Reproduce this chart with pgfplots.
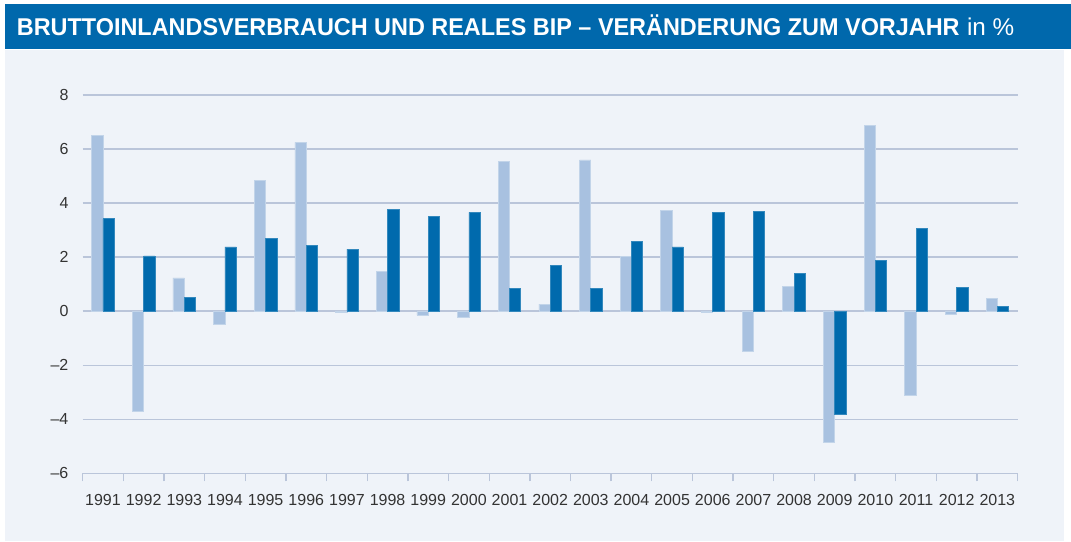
\documentclass[border=0pt]{standalone}
\usepackage{fontspec}
\setmainfont{Liberation Sans}
\usepackage{graphicx}
\usepackage{pgfplots}
\pgfplotsset{compat=1.18}

\definecolor{bandblue}{HTML}{0068AC}
\definecolor{panel}{HTML}{EFF3F9}
\definecolor{lightbar}{HTML}{A8C1E0}
\definecolor{darkbar}{HTML}{006AAD}
\definecolor{gridcol}{HTML}{BAC5DA}
\definecolor{labelcol}{HTML}{333333}

\begin{document}
\begin{tikzpicture}
% page, title band and panel (1px = 0.75pt)
\fill[white] (0,0) rectangle (803.25pt,-406.5pt);
\fill[bandblue] (3.75pt,-3pt) rectangle (803.25pt,-36.75pt);
\fill[panel] (3.75pt,-37.5pt) rectangle (798pt,-406.1pt);
\node[anchor=base west, inner sep=0pt, text=white,
      font=\fontsize{18.2pt}{20pt}\selectfont] at (12.5pt,-26.8pt)
  {\scalebox{0.965}[1]{\bfseries BRUTTOINLANDSVERBRAUCH UND REALES BIP – VERÄNDERUNG ZUM VORJAHR}\hspace{5.5pt}in \%};

\begin{axis}[
  at={(62pt,-355pt)}, anchor=south west,
  scale only axis, width=701.25pt, height=283.7pt,
  xmin=-0.5, xmax=22.5, ymin=-6, ymax=8,
  axis lines*=left,
  y axis line style={draw=none},
  x axis line style={draw=gridcol, line width=1pt},
  ymajorgrids, grid style={gridcol, line width=1.1pt},
  ytick={-6,-4,...,8},
  yticklabels={–6,–4,–2,0,2,4,6,8},
  xtick={0,...,22},
  xticklabels={1991,1992,1993,1994,1995,1996,1997,1998,1999,2000,2001,2002,2003,2004,2005,2006,2007,2008,2009,2010,2011,2012,2013},
  minor xtick={-0.5,0.5,...,22.5},
  major tick length=0pt, minor tick length=6pt,
  tick align=outside,
  every minor tick/.append style={gridcol, line width=1pt},
  tick label style={font=\fontsize{12pt}{14pt}\selectfont, text=labelcol},
  xticklabel style={anchor=north, inner sep=0pt, yshift=-15.5pt},
  yticklabel style={anchor=east, inner sep=0pt, xshift=-10.5pt},
]
% Bruttoinlandsverbrauch
\addplot[ybar, bar width=0.278, bar shift=-0.139, fill=lightbar, draw=lightbar!70!white, line width=0.5pt]
coordinates {(0,6.50) (1,-3.72) (2,1.23) (3,-0.48) (4,4.83) (5,6.25) (6,-0.05) (7,1.47)
  (8,-0.14) (9,-0.21) (10,5.54) (11,0.26) (12,5.60) (13,2.03) (14,3.73) (15,-0.03)
  (16,-1.50) (17,0.92) (18,-4.87) (19,6.89) (20,-3.13) (21,-0.10) (22,0.46)};
% reales BIP
\addplot[ybar, bar width=0.278, bar shift=0.139, fill=darkbar, draw=darkbar!80!white, line width=0.5pt]
coordinates {(0,3.42) (1,2.05) (2,0.52) (3,2.38) (4,2.68) (5,2.45) (6,2.30) (7,3.77)
  (8,3.52) (9,3.66) (10,0.85) (11,1.70) (12,0.85) (13,2.59) (14,2.38) (15,3.66)
  (16,3.70) (17,1.40) (18,-3.80) (19,1.88) (20,3.07) (21,0.88) (22,0.19)};
\end{axis}
\end{tikzpicture}
\end{document}
